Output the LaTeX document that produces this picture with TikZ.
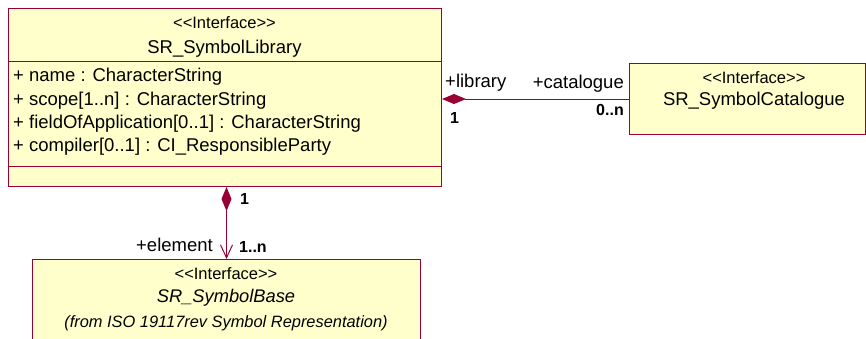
\documentclass[tikz,border=0pt]{standalone}
\usepackage{fontspec}
\setmainfont{Liberation Sans}
\usetikzlibrary{arrows.meta}
\definecolor{umlfill}{HTML}{FFFFCC}
\definecolor{umlline}{HTML}{990033}
\newcommand{\stereotxt}{{<}{<}Interface{>}{>}}
\begin{document}
\begin{tikzpicture}[x=1pt,y=-1pt,
  classbox/.style={draw=umlline,fill=umlfill,line width=1pt,inner sep=0pt,anchor=north west},
  stereo/.style={anchor=base,inner sep=0pt,font=\fontsize{16.5}{18}\selectfont},
  cname/.style={anchor=base,inner sep=0pt,font=\fontsize{18.5}{22}\selectfont},
  attr/.style={anchor=base west,inner sep=0pt,font=\fontsize{18.5}{22}\selectfont},
  role/.style={inner sep=0pt,font=\fontsize{18.5}{22}\selectfont},
  mult/.style={inner sep=0pt,font=\bfseries\fontsize{16}{18}\selectfont},
  assoc/.style={draw=umlline,line width=1pt}]
\useasboundingbox (0,0) rectangle (866,338);
\clip (0,0) rectangle (866,338);
% SR_SymbolLibrary
\node[classbox,minimum width=433pt,minimum height=178pt] (lib) at (8,8) {};
\draw[umlline,line width=1pt] (8,61) -- (441,61) (8,166) -- (441,166);
\node[stereo] (libst) at (224.5,28) {\stereotxt};
\node[cname] (libnm) at (224.5,53) {SR\_SymbolLibrary};
\node[attr] (a1) at (13,81.5) {+ name : CharacterString};
\node[attr] (a2) at (13,105) {+ scope[1..n] : CharacterString};
\node[attr] (a3) at (13,128) {+ fieldOfApplication[0..1] : CharacterString};
\node[attr] (a4) at (13,151) {+ compiler[0..1] : CI\_ResponsibleParty};
% SR_SymbolCatalogue
\node[classbox,minimum width=236pt,minimum height=71pt] (cat) at (629,63) {};
\node[stereo] (catst) at (754,83) {\stereotxt};
\node[cname] (catnm) at (754,105) {SR\_SymbolCatalogue};
% SR_SymbolBase
\node[classbox,minimum width=388pt,minimum height=100pt] (base) at (32,259) {};
\node[stereo] (basest) at (226,279) {\stereotxt};
\node[anchor=base,inner sep=0pt,font=\itshape\fontsize{18.3}{20}\selectfont] (basenm) at (226,302) {SR\_SymbolBase};
\node[anchor=base,inner sep=0pt,font=\itshape\fontsize{16.4}{18}\selectfont] (basefrom) at (226,327) {(from ISO 19117rev Symbol Representation)};
% associations
\draw[assoc,{Diamond[length=24pt,width=10pt,fill=umlline]}-] (cat.west -| lib.east) -- (cat.west);
\draw[assoc,{Diamond[length=24pt,width=10pt,fill=umlline]}-{Straight Barb[length=13pt,width=12pt,line width=1pt]}] (base.north |- lib.south) -- (base.north);
% labels
\node[role,anchor=base west] (lrole) at (445,87) {+library};
\node[role,anchor=base east] (crole) at (624,88) {+catalogue};
\node[mult,anchor=base west] (lmult) at (450,123) {1};
\node[mult,anchor=base east] (cmult) at (624,115) {0..n};
\node[mult,anchor=base west] (bmult1) at (240,204) {1};
\node[role,anchor=base east] (erole) at (213,251) {+element};
\node[mult,anchor=base west] (emult) at (239,252) {1..n};
\end{tikzpicture}
\end{document}
